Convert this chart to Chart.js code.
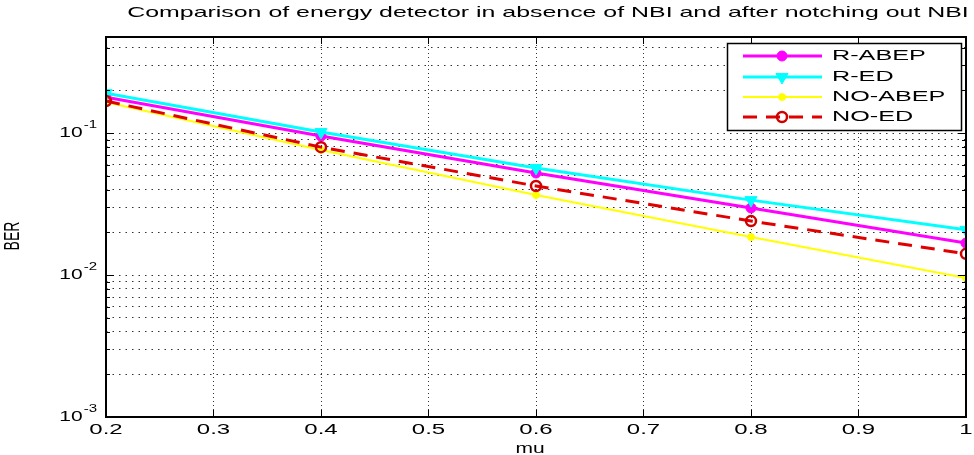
<!DOCTYPE html>
<html>
<head>
<meta charset="utf-8">
<title>BER vs mu</title>
<script src="https://cdn.jsdelivr.net/npm/chart.js@4.4.1/dist/chart.umd.min.js"></script>
<style>
  html, body { margin: 0; padding: 0; background: #fff; }
  #wrap { width: 974px; height: 455px; }
</style>
</head>
<body>
<div id="wrap"><canvas id="berChart" width="974" height="455"></canvas></div>
<script>
// Values
const mu = [0.2, 0.4, 0.6, 0.8, 1.0];
const rAbep = [0.179, 0.0952, 0.0523, 0.0297, 0.0168];
const rEd = [0.191, 0.1016, 0.0567, 0.0337, 0.0208];
const noAbep = [0.165, 0.0759, 0.0366, 0.0185, 0.00953];
const noEd = [0.168, 0.0796, 0.0424, 0.0240, 0.0141];

const seriesNames = ["R-ABEP", "R-ED", "NO-ABEP", "NO-ED"];

const xTicks = [0.2, 0.3, 0.4, 0.5, 0.6, 0.7, 0.8, 0.9, 1.0];
const xTickLabels = ["0.2", "0.3", "0.4", "0.5", "0.6", "0.7", "0.8", "0.9", "1"];
const yDecades = [0.001, 0.01, 0.1];
const yDecadeExp = ["-3", "-2", "-1"];
const yMinor = [0.002, 0.003, 0.004, 0.005, 0.006, 0.007, 0.008, 0.009,
                0.02, 0.03, 0.04, 0.05, 0.06, 0.07, 0.08, 0.09,
                0.2, 0.3, 0.4];

const titleText = "Comparison of energy detector in absence of NBI and after notching out NBI";

const FONT = '"Liberation Sans", Arial, sans-serif';

// the original picture is stretched sideways, so text is drawn wide too
function wideText(ctx, str, x, y, size, sx, align) {
    ctx.font = size + "px " + FONT;
    const w = ctx.measureText(str).width * sx;
    const x0 = align === "center" ? x - w / 2 : align === "right" ? x - w : x;
    ctx.save();
    ctx.translate(x0, y);
    ctx.scale(sx, 1);
    ctx.textAlign = "left";
    ctx.textBaseline = "middle";
    ctx.fillText(str, 0, 0);
    ctx.restore();
    return w;
}

function pts(vals) {
    return mu.map((m, i) => ({ x: m, y: vals[i] }));
}

// axes box, inward ticks, labels and the boxed legend, MATLAB style
const matlabFrame = {
    id: "matlabFrame",
    afterDraw(chart) {
        const { ctx, chartArea: a, scales: { x, y } } = chart;
        ctx.save();
        ctx.strokeStyle = "#000";
        ctx.fillStyle = "#000";

        // ticks
        ctx.lineWidth = 1;
        ctx.beginPath();
        xTicks.forEach(v => {
            const px = Math.round(x.getPixelForValue(v)) + 0.5;
            ctx.moveTo(px, a.bottom); ctx.lineTo(px, a.bottom - 7);
            ctx.moveTo(px, a.top); ctx.lineTo(px, a.top + 7);
        });
        yDecades.forEach(v => {
            const py = Math.round(y.getPixelForValue(v)) + 0.5;
            ctx.moveTo(a.left, py); ctx.lineTo(a.left + 8, py);
            ctx.moveTo(a.right, py); ctx.lineTo(a.right - 8, py);
        });
        yMinor.forEach(v => {
            const py = Math.round(y.getPixelForValue(v)) + 0.5;
            ctx.moveTo(a.left, py); ctx.lineTo(a.left + 4, py);
            ctx.moveTo(a.right, py); ctx.lineTo(a.right - 4, py);
        });
        ctx.stroke();

        // box
        ctx.lineWidth = 2;
        ctx.strokeRect(a.left, a.top, a.right - a.left, a.bottom - a.top);

        // x tick labels
        xTicks.forEach((v, i) => {
            wideText(ctx, xTickLabels[i], x.getPixelForValue(v), 430, 15, 1.6, "center");
        });

        // y tick labels: 10 with superscript exponent
        yDecades.forEach((v, i) => {
            const py = y.getPixelForValue(v);
            ctx.font = "10px " + FONT;
            const supW = ctx.measureText(yDecadeExp[i]).width * 1.5;
            wideText(ctx, yDecadeExp[i], 97 - supW, py - 8, 10, 1.5, "left");
            wideText(ctx, "10", 97 - supW - 1, py, 14, 1.5, "right");
        });

        // title and axis titles
        wideText(ctx, titleText, 548, 13, 15, 1.66, "center");
        wideText(ctx, "mu", 530, 449, 14, 1.5, "center");
        ctx.save();
        ctx.translate(13, 236);
        ctx.scale(1.6, 1);
        ctx.rotate(-Math.PI / 2);
        ctx.font = "14px " + FONT;
        ctx.textAlign = "center";
        ctx.textBaseline = "middle";
        ctx.fillText("BER", 0, 0);
        ctx.restore();

        // legend
        const lx = 727, ly = 43, lw = 234, lh = 87;
        ctx.fillStyle = "#fff";
        ctx.fillRect(lx, ly, lw, lh);
        ctx.lineWidth = 1.5;
        ctx.strokeStyle = "#000";
        ctx.strokeRect(lx + 0.5, ly + 0.5, lw, lh);
        const rows = [56, 77, 97, 117];
        chart.data.datasets.forEach((ds, i) => {
            const ry = rows[i];
            ctx.save();
            ctx.strokeStyle = ds.borderColor;
            ctx.lineWidth = ds.borderWidth;
            ctx.setLineDash(ds.borderDash || []);
            ctx.beginPath();
            ctx.moveTo(743, ry); ctx.lineTo(822, ry);
            ctx.stroke();
            ctx.setLineDash([]);
            ctx.fillStyle = ds.pointBackgroundColor;
            ctx.strokeStyle = ds.pointBorderColor;
            ctx.lineWidth = ds.pointBorderWidth;
            Chart.helpers.drawPoint(ctx, {
                pointStyle: ds.pointStyle,
                radius: ds.pointRadius,
                rotation: ds.pointRotation || 0,
                borderWidth: ds.pointBorderWidth
            }, 782, ry);
            ctx.restore();
            ctx.fillStyle = "#000";
            wideText(ctx, seriesNames[i], 832, ry, 14, 1.8, "left");
        });

        ctx.restore();
    }
};

const ctx = document.getElementById("berChart").getContext("2d");

new Chart(ctx, {
    type: "line",
    data: {
        datasets: [{
            label: seriesNames[0],
            data: pts(rAbep),
            borderColor: "#ff00ff",
            borderWidth: 3,
            pointStyle: "circle",
            pointRadius: 5,
            pointBackgroundColor: "#ff00ff",
            pointBorderColor: "#ff00ff",
            pointBorderWidth: 1,
            order: 4
        }, {
            label: seriesNames[1],
            data: pts(rEd),
            borderColor: "#00ffff",
            borderWidth: 3,
            pointStyle: "triangle",
            pointRotation: 180,
            pointRadius: 7,
            pointBackgroundColor: "#00ffff",
            pointBorderColor: "#00ffff",
            pointBorderWidth: 1,
            order: 3
        }, {
            label: seriesNames[2],
            data: pts(noAbep),
            borderColor: "#ffff00",
            borderWidth: 2,
            pointStyle: "circle",
            pointRadius: 3.5,
            pointBackgroundColor: "#ffff00",
            pointBorderColor: "#ffff00",
            pointBorderWidth: 1,
            order: 2
        }, {
            label: seriesNames[3],
            data: pts(noEd),
            borderColor: "#e00000",
            borderWidth: 3,
            borderDash: [14, 9],
            pointStyle: "circle",
            pointRadius: 5,
            pointBackgroundColor: "rgba(0,0,0,0)",
            pointBorderColor: "#d00000",
            pointBorderWidth: 2.5,
            order: 1
        }]
    },
    options: {
        responsive: false,
        animation: false,
        events: [],
        layout: { padding: { top: 37, right: 2, left: 0, bottom: 0 } },
        plugins: {
            legend: { display: false },
            title: { display: false },
            tooltip: { enabled: false }
        },
        elements: { line: { tension: 0 } },
        scales: {
            x: {
                type: "linear",
                min: 0.2,
                max: 1.0,
                afterBuildTicks: s => { s.ticks = xTicks.map(v => ({ value: v })); },
                afterFit: s => { s.height = 38; },
                ticks: { display: false },
                grid: { color: "#333", lineWidth: 1, drawTicks: false },
                border: { display: false, dash: [1, 3] }
            },
            y: {
                type: "logarithmic",
                min: 0.001,
                max: 0.475,
                afterBuildTicks: s => {
                    s.ticks = yDecades.concat(yMinor).sort((p, q) => p - q).map(v => ({ value: v }));
                },
                afterFit: s => { s.width = 106; },
                ticks: { display: false },
                grid: { color: "#333", lineWidth: 1, drawTicks: false },
                border: { display: false, dash: [1.5, 5] }
            }
        }
    },
    plugins: [matlabFrame]
});
</script>
</body>
</html>
